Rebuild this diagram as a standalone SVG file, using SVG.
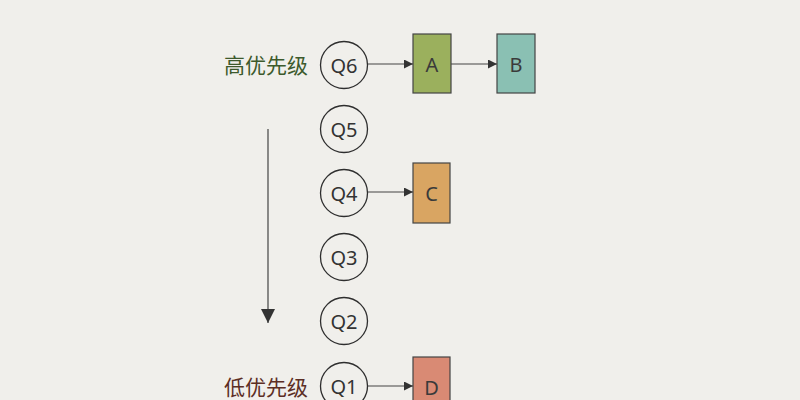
<svg xmlns="http://www.w3.org/2000/svg" width="800" height="400" viewBox="0 0 800 400">
<defs>
<style>
.q circle{fill:none;stroke:#2e2e2e;stroke-width:1.3}
.q text{font-family:"Noto Sans","Open Sans",sans-serif;font-size:20px;fill:#333;text-anchor:middle;dominant-baseline:central}
.box rect{stroke:#444;stroke-width:1.2}
.box text{font-family:"Noto Sans",sans-serif;font-size:20px;fill:#3a3a3a;text-anchor:middle;dominant-baseline:central}
.lbl{font-family:"Noto Sans CJK SC",sans-serif;font-size:21px;dominant-baseline:central}
.conn line{stroke:#444;stroke-width:1.2}
</style>
<marker id="ah" viewBox="0 0 10 10" refX="10" refY="5" markerWidth="9" markerHeight="9" markerUnits="userSpaceOnUse" orient="auto">
<path d="M0,0 L10,5 L0,10 z" fill="#333"/>
</marker>
<marker id="ahb" viewBox="0 0 10 10" refX="10" refY="5" markerWidth="14" markerHeight="14" markerUnits="userSpaceOnUse" orient="auto">
<path d="M0,0 L10,5 L0,10 z" fill="#333"/>
</marker>
</defs>
<rect width="800" height="400" fill="#f0efeb"/>
<text class="lbl" x="224" y="64" fill="#3d5a2c">高优先级</text>
<text class="lbl" x="224" y="386" fill="#5c2e24">低优先级</text>
<g id="Q6" class="q"><circle cx="344" cy="65" r="23.5"/><text x="344" y="65">Q6</text></g>
<g id="Q5" class="q"><circle cx="344" cy="129" r="23.5"/><text x="344" y="129">Q5</text></g>
<g id="Q4" class="q"><circle cx="344" cy="193" r="23.5"/><text x="344" y="193">Q4</text></g>
<g id="Q3" class="q"><circle cx="344" cy="257" r="23.5"/><text x="344" y="257">Q3</text></g>
<g id="Q2" class="q"><circle cx="344" cy="321" r="23.5"/><text x="344" y="321">Q2</text></g>
<g id="Q1" class="q"><circle cx="344" cy="386" r="23.5"/><text x="344" y="386">Q1</text></g>
<g id="A" class="box"><rect x="413" y="34" width="38" height="59" fill="#9bb05d"/><text x="432" y="64">A</text></g>
<g id="B" class="box"><rect x="497" y="34" width="38" height="59" fill="#8ac0b3"/><text x="516" y="64">B</text></g>
<g id="C" class="box"><rect x="413" y="163" width="37" height="60" fill="#d9a562"/><text x="431.5" y="193">C</text></g>
<g id="D" class="box"><rect x="413" y="357" width="37" height="60" fill="#d98a74"/><text x="431.5" y="387">D</text></g>
<g id="connectors" class="conn">
<line x1="368" y1="64" x2="413" y2="64" marker-end="url(#ah)"/>
<line x1="451" y1="64" x2="497" y2="64" marker-end="url(#ah)"/>
<line x1="368" y1="192" x2="413" y2="192" marker-end="url(#ah)"/>
<line x1="368" y1="386" x2="413" y2="386" marker-end="url(#ah)"/>
<line x1="268" y1="129" x2="268" y2="323" stroke-width="2" marker-end="url(#ahb)"/>
</g>
</svg>
